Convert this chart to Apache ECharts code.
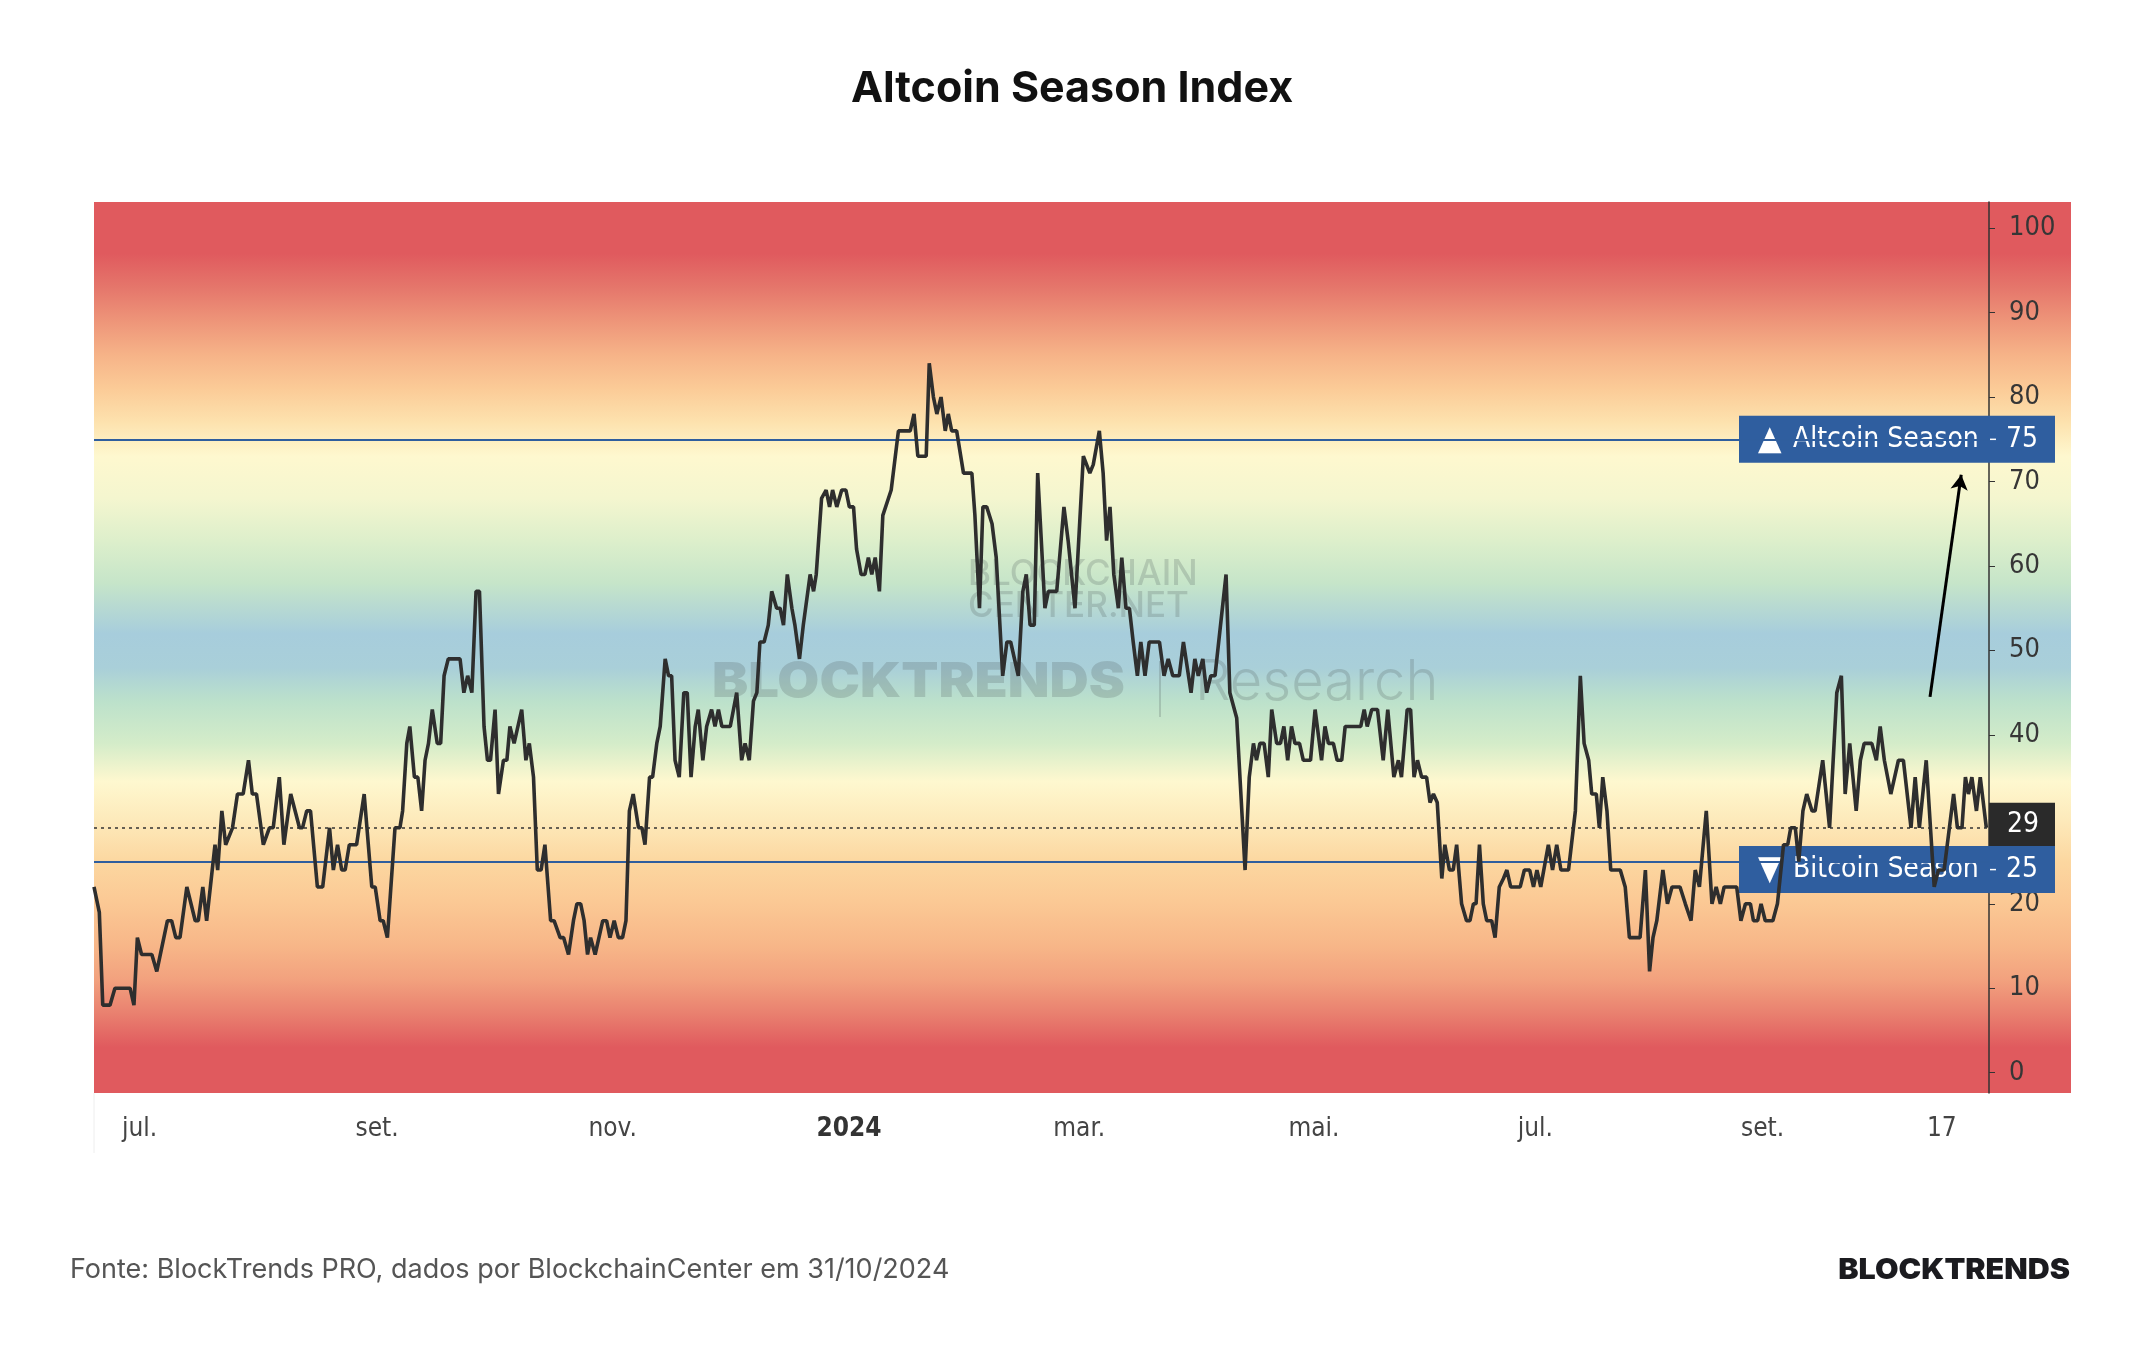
<!DOCTYPE html>
<html lang="pt">
<head>
<meta charset="UTF-8">
<title>Altcoin Season Index</title>
<style>
  html, body { margin: 0; padding: 0; background: #fff; }
  #chart { width: 2144px; height: 1350px; }
</style>
</head>
<body>
<div id="chart"></div>
<script src="https://cdn.jsdelivr.net/npm/echarts@6/dist/echarts.min.js"></script>
<script>
  // dias contados a partir de START, valor do índice
  var START = '2023-06-19';
  var dayIdx = [
    0,1.4,2.3,4.2,5.5,9.5,10.5,11.4,12.5,15.2,16.5,19.3,20.4,21.5,22.6,24.4,26.6,27.4,28.6,29.6,
    31.8,32.5,33.6,34.6,36.4,37.7,39.2,40.6,41.6,42.7,44.5,46.1,47.1,48.7,49.9,51.7,54.0,54.8,55.9,56.9,
    58.7,60.1,61.9,62.9,64.0,65.1,66.0,67.1,69.0,71.0,73.0,73.9,75.2,76.0,77.1,79.1,80.4,81.1,82.2,83.0,
    84.2,85.1,86.1,87.0,87.9,88.9,90.2,91.1,92.0,93.1,96.2,97.2,98.2,99.3,100.4,101.3,102.5,103.4,104.2,105.4,
    106.3,107.6,108.5,109.3,110.4,112.4,113.5,114.4,115.5,116.5,117.5,118.5,120.0,120.9,122.5,123.4,124.7,126.0,126.9,127.9,
    128.8,129.7,130.5,131.7,133.7,134.7,135.6,136.7,137.8,138.9,139.8,140.7,141.7,143.1,144.0,144.8,146.0,146.8,147.9,148.8,
    150.1,151.0,151.8,152.7,153.8,155.0,155.9,156.9,158.0,158.8,160.0,161.0,162.3,163.2,164.1,165.0,167.2,168.9,170.2,171.1,
    172.2,173.3,174.2,175.0,176.1,177.2,178.1,179.4,180.3,181.2,182.2,183.4,184.2,185.4,186.4,188.2,189.1,189.8,191.2,192.4,
    193.3,194.1,195.2,196.5,197.6,198.5,199.6,200.4,201.6,202.6,203.5,204.4,205.3,206.4,207.3,209.5,211.4,214.5,215.5,216.5,
    218.7,219.5,220.6,221.5,222.6,223.7,224.5,225.4,226.7,228.5,230.7,231.5,232.7,233.6,234.6,236.0,237.1,238.8,239.9,240.9,
    242.9,244.1,245.0,246.0,247.1,248.0,249.9,250.8,253.0,254.9,256.0,257.8,260.0,261.7,262.6,264.2,265.2,266.1,267.0,268.0,
    269.2,270.1,271.2,272.1,273.1,274.2,275.1,276.2,277.3,280.0,281.2,282.3,283.5,285.2,286.3,288.3,289.3,290.2,291.4,292.4,
    293.5,294.6,297.5,298.5,300.3,302.5,303.6,304.7,305.5,306.4,307.5,308.6,309.5,310.8,311.8,312.7,313.7,314.7,315.6,316.8,
    317.8,319.7,320.9,322.6,323.5,324.4,325.7,326.7,327.9,328.8,332.9,333.8,334.6,335.8,337.3,338.8,340.0,341.6,342.8,343.6,
    345.1,346.0,346.9,347.8,348.9,350.2,351.1,352.0,353.0,354.2,355.0,356.2,357.2,358.1,359.4,360.7,361.6,362.5,363.2,364.1,
    365.1,366.0,367.3,368.2,369.3,370.4,371.3,372.3,374.8,375.9,377.3,378.3,379.2,380.2,382.2,383.3,384.4,385.5,387.5,389.3,
    390.6,391.6,392.8,393.6,394.8,395.6,396.5,397.6,398.6,401.1,402.4,403.5,406.3,407.7,408.8,409.7,410.7,412.3,413.5,414.7,
    416.8,418.2,419.7,420.8,421.9,423.7,425.2,426.3,427.4,428.4,431.7,432.8,434.0,435.3,436.1,437.2,438.1,439.2,441.2,442.4,
    444.0,445.1,445.9,447.1,448.0,449.1,450.1,451.5,452.3,454.3,455.2,456.1,458.0,459.2,460.2,461.4,463.1,464.2,465.2,467.2,
    468.4,469.4,470.5,472.2,474.2,475.5,477.5,478.6,479.7,481.5,483.6,484.7,486.2,488.7,489.7,490.9,491.8,492.6,493.5,494.7,
    495.7,497.3
  ];
  var indexVals = [
    22,19,8,8,10,10,8,16,14,14,12,18,18,16,16,22,18,18,22,18,
    27,24,31,27,29,33,33,37,33,33,27,29,29,35,27,33,29,29,31,31,
    22,22,29,24,27,24,24,27,27,33,22,22,18,18,16,29,29,31,39,41,
    35,35,31,37,39,43,39,39,47,49,49,45,47,45,57,57,41,37,37,43,
    33,37,37,41,39,43,37,39,35,24,24,27,18,18,16,16,14,18,20,20,
    18,14,16,14,18,18,16,18,16,16,18,31,33,29,29,27,35,35,39,41,
    49,47,47,37,35,45,45,35,41,43,37,41,43,41,43,41,41,45,37,39,
    37,44,45,51,51,53,57,55,55,53,59,55,53,49,53,59,57,59,68,69,
    67,69,67,69,69,67,67,62,59,59,61,59,61,57,66,69,76,76,78,73,
    73,84,80,78,80,76,78,76,76,71,71,66,55,67,67,65,61,47,51,51,
    47,57,59,53,53,71,55,57,57,67,63,55,73,71,72,76,71,63,67,59,
    55,61,55,55,51,47,51,47,51,51,47,49,47,47,51,45,49,47,49,45,
    47,47,59,45,42,24,35,39,37,39,39,35,43,39,39,41,37,41,39,39,
    37,37,43,37,41,39,39,37,37,41,41,43,41,43,43,37,43,35,37,35,
    43,43,35,37,35,35,32,33,32,23,27,24,24,27,20,18,18,20,20,27,
    20,18,18,16,22,23,24,22,22,24,24,22,24,22,27,24,27,24,24,31,
    47,39,37,33,33,29,35,31,24,24,22,16,16,24,12,16,18,24,20,22,
    22,20,18,24,22,31,20,22,20,22,22,18,20,20,18,18,20,18,18,20,
    27,27,29,29,25,31,33,31,31,37,33,29,45,47,33,39,31,37,39,39,
    37,41,37,33,37,37,29,35,29,37,22,24,24,33,29,29,35,33,35,31,
    35,29
  ];
  // posição dos rótulos do eixo x (em dias desde START), como aparecem no gráfico
  var tickDays = [12.0, 74.4, 136.3, 198.4, 258.9, 320.6, 378.8, 438.5, 485.6];
  var tickLabels = ['jul.','set.','nov.','2024','mar.','mai.','jul.','set.','17'];
  var yTicks = [0,10,20,30,40,50,60,70,80,90,100];
  var altLevel = 75, btcLevel = 25, lastVal = 29;
  var arrowFrom = [482.5, 44.5], arrowTo = [490.7, 70.8];
  // faixas de cor do fundo (valor do índice -> cor)
  var bandValues = [103.1, 97, 93, 89, 85, 81, 77, 73, 68, 63, 58, 52, 48, 44, 39, 34.5, 30, 25, 20, 15, 11, 7, 3, -2.4];
  var bandColors = ['#E05A5E','#E05A5E','#E5766B','#EE9579','#F6B388','#FBCB97','#FDE2AE','#FEF8CF','#F4F6CF','#DDEFCB','#C6E5C9','#A7CDDC','#A9CFD9','#BCE1CB','#D4ECC9','#FEF8CF','#FDEABB','#FCD7A0','#FBC894','#F7B688','#F2A17E','#E9806F','#E05A5E','#E05A5E'];

  var AXIS_FONT = "'DejaVu Sans Condensed', 'DejaVu Sans', sans-serif";
  var yMin = -2.4, yMax = 103.1, xMax = 498;
  var seriesData = dayIdx.map(function (d, i) { return [d, indexVals[i]]; });

  var chart = echarts.init(document.getElementById('chart'));

  var option = {
    animation: false,
    title: {
      text: 'Altcoin Season Index',
      left: 'center',
      top: 63,
      textStyle: { fontFamily: 'Inter', fontWeight: 700, fontSize: 43, color: '#111' }
    },
    grid: { left: 94, right: 155, top: 202, bottom: 257, containLabel: false },
    xAxis: {
      type: 'value', min: 0, max: xMax,
      axisLine: { show: false }, axisTick: { show: false }, splitLine: { show: false },
      axisLabel: {
        customValues: tickDays,
        margin: 23,
        fontSize: 26,
        fontFamily: AXIS_FONT,
        color: '#444',
        formatter: function (v) {
          var t = tickLabels[tickDays.indexOf(v)];
          return /^\d{4}$/.test(t) ? '{b|' + t + '}' : t;
        },
        rich: { b: { fontWeight: 'bold', fontSize: 26, fontFamily: AXIS_FONT, color: '#333' } }
      }
    },
    yAxis: {
      type: 'value', position: 'right', min: yMin, max: yMax,
      axisLine: { show: true, onZero: false, lineStyle: { color: '#333', width: 1.5 } },
      axisTick: { show: true, customValues: yTicks, length: 6, lineStyle: { color: '#333' } },
      splitLine: { show: false },
      axisLabel: { customValues: yTicks, margin: 20, fontSize: 27, fontFamily: AXIS_FONT, color: '#363636' }
    },
    series: [
      {
        name: 'levels', type: 'line', data: [], z: 2, silent: true,
        markLine: {
          silent: true, symbol: 'none', label: { show: false },
          data: [
            { yAxis: altLevel, lineStyle: { color: '#2F5E9E', width: 2, type: 'solid' } },
            { yAxis: btcLevel, lineStyle: { color: '#2F5E9E', width: 2, type: 'solid' } },
            { yAxis: lastVal, lineStyle: { color: '#333', width: 1.5, type: [3, 4] } }
          ]
        }
      },
      {
        name: 'arrow', type: 'line', data: [], z: 6, silent: true,
        markLine: {
          silent: true, symbol: ['none', 'arrow'], symbolSize: [13, 15],
          label: { show: false },
          lineStyle: { color: '#000', width: 3, type: 'solid' },
          data: [[{ coord: arrowFrom }, { coord: arrowTo }]]
        }
      },
      {
        name: 'Altcoin Season Index', type: 'line', data: seriesData, z: 5,
        showSymbol: false, symbol: 'none',
        lineStyle: { color: '#2e2e2e', width: 3.6 },
        emphasis: { disabled: true }
      }
    ]
  };
  chart.setOption(option);

  // caixas de rótulo no eixo direito, posicionadas pela escala do próprio gráfico
  var ax = chart.convertToPixel({ xAxisIndex: 0 }, xMax);
  var gTop = chart.convertToPixel({ yAxisIndex: 0 }, yMax);
  var gBot = chart.convertToPixel({ yAxisIndex: 0 }, yMin);
  var gLeft = chart.convertToPixel({ xAxisIndex: 0 }, 0);
  var bgStops = bandValues.map(function (v, i) {
    return { offset: (yMax - v) / (yMax - yMin), color: bandColors[i] };
  });
  var WM = 'rgba(85,95,95,0.24)';

  function seasonBox(yc, tri, name, level) {
    return [
      { type: 'rect', z: 3, shape: { x: ax - 250, y: yc - 23.5, width: 316, height: 47 }, style: { fill: '#2F5E9F' } },
      { type: 'text', z: 3, x: ax - 231, y: yc + 1, style: { text: tri, font: '34px ' + AXIS_FONT, fill: '#fff', verticalAlign: 'middle' } },
      { type: 'text', z: 3, x: ax - 196, y: yc, style: { text: name, font: '500 28px ' + AXIS_FONT, fill: '#fff', verticalAlign: 'middle' } },
      { type: 'line', z: 3, shape: { x1: ax + 1, y1: yc, x2: ax + 7, y2: yc }, style: { stroke: '#fff', lineWidth: 1.5 } },
      { type: 'text', z: 3, x: ax + 49, y: yc, style: { text: String(level), font: '28px ' + AXIS_FONT, fill: '#fff', align: 'right', verticalAlign: 'middle' } }
    ];
  }

  var yAlt = chart.convertToPixel({ yAxisIndex: 0 }, altLevel);
  var yBtc = chart.convertToPixel({ yAxisIndex: 0 }, btcLevel);
  var yLast = chart.convertToPixel({ yAxisIndex: 0 }, lastVal);

  var graphic = [
    { type: 'rect', z: -1, silent: true, shape: { x: gLeft, y: gTop, width: 2071 - gLeft, height: gBot - gTop },
      style: { fill: { type: 'linear', x: 0, y: 0, x2: 0, y2: 1, colorStops: bgStops } } },
    { type: 'line', z: -1, shape: { x1: gLeft, y1: gBot, x2: gLeft, y2: gBot + 60 }, style: { stroke: '#eeeeee', lineWidth: 1 } },
    { type: 'text', z: 1, x: 968, y: 574, style: { text: 'BLOCKCHAIN', font: '500 35px Inter', fill: WM, verticalAlign: 'middle' } },
    { type: 'text', z: 1, x: 968, y: 606, style: { text: 'CENTER.NET', font: '500 35px Inter', fill: WM, verticalAlign: 'middle' } },
    { type: 'text', z: 1, x: 712, y: 683, scaleX: 1.13, style: { text: 'BLOCKTRENDS', font: '900 48px Inter', fill: WM, verticalAlign: 'middle' } },
    { type: 'line', z: 1, shape: { x1: 1160, y1: 661, x2: 1160, y2: 717 }, style: { stroke: WM, lineWidth: 2 } },
    { type: 'text', z: 1, x: 1195, y: 683, style: { text: 'Research', font: '300 56px Inter', fill: WM, verticalAlign: 'middle' } },
    { type: 'text', x: 70, y: 1270, style: { text: 'Fonte: BlockTrends PRO, dados por BlockchainCenter em 31/10/2024', font: '400 27px Inter', fill: '#555', verticalAlign: 'middle' } },
    { type: 'text', x: 2070, y: 1270, scaleX: 1.05, style: { text: 'BLOCKTRENDS', font: '900 29px Inter', fill: '#1b1b1f', align: 'right', verticalAlign: 'middle' } },
    { type: 'rect', z: 3, shape: { x: ax, y: yLast - 25, width: 66, height: 44 }, style: { fill: '#2a2a2a' } },
    { type: 'text', z: 3, x: ax + 34, y: yLast - 3, style: { text: String(lastVal), font: '28px ' + AXIS_FONT, fill: '#fff', align: 'center', verticalAlign: 'middle' } }
  ].concat(seasonBox(yAlt, '▲', 'Altcoin Season', altLevel))
   .concat(seasonBox(yBtc + 8, '▼', 'Bitcoin Season', btcLevel));

  chart.setOption({ graphic: graphic });
</script>
</body>
</html>
